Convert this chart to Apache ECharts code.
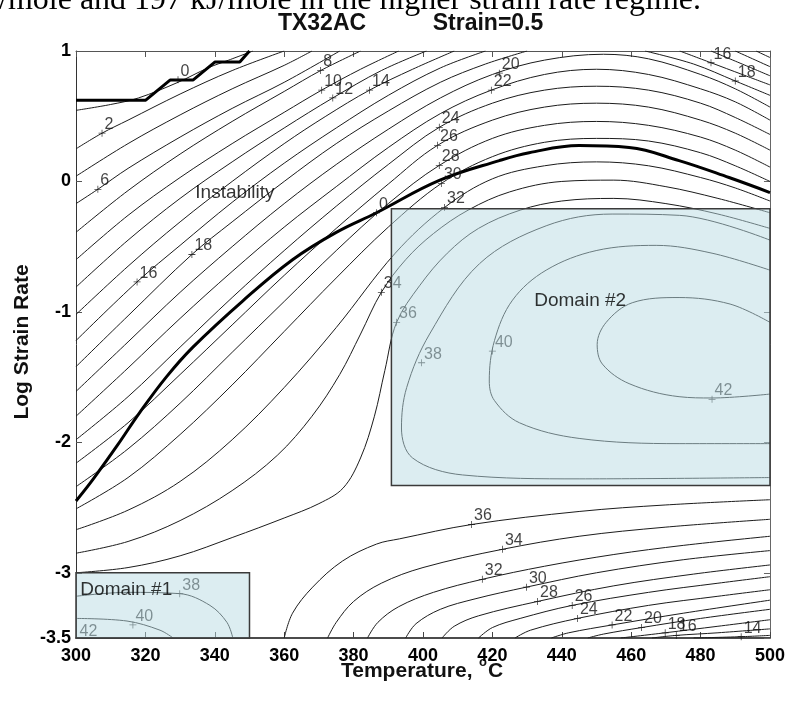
<!DOCTYPE html>
<html><head><meta charset="utf-8">
<script src="https://cdn.jsdelivr.net/npm/echarts@6/dist/echarts.min.js"></script>
<style>html,body{margin:0;padding:0;background:#fff;}#c{width:788px;height:702px;}</style>
</head><body><div id="c"></div>
<script>
// ---- axis ticks ----
const xTicks = [300, 320, 340, 360, 380, 400, 420, 440, 460, 480, 500];
const yTicks = [-3.5, -3, -2, -1, 0, 1];

// ---- upper family contour lines (Temperature, Log strain rate) ----
const lvl00 = [[300,0.545],[310,0.59],[318,0.64],[329.4,0.76],[338,0.87],[344,0.93],[351,1.0]];
const lvl02 = [[300,0.25],[307.5,0.37],[315,0.47],[330,0.67],[345,0.85],[360,1.0]];
const lvl04 = [[300,0.04],[315,0.29],[330,0.51],[345,0.71],[360,0.89],[368,1.0]];
const lvl06 = [[300,-0.17],[306.3,-0.06],[315,0.10],[330,0.34],[345,0.56],[360,0.76],[376,1.0]];
const lvl08 = [[300,-0.39],[315,-0.07],[330,0.21],[345,0.46],[360,0.69],[370.5,0.85],[382,1.0]];
const lvl10 = [[300,-0.60],[315,-0.26],[330,0.03],[345,0.29],[360,0.53],[370.8,0.70],[382,0.86],[393,1.0]];
const lvl10r = [[496,1.0],[500,0.95]];
const lvl12 = [[300,-0.81],[315,-0.45],[330,-0.13],[345,0.15],[360,0.41],[374,0.64],[388,0.85],[401,1.0]];
const lvl12r = [[490,1.0],[495,0.94],[500,0.88]];
const lvl14 = [[300,-1.02],[315,-0.65],[330,-0.31],[345,0.0],[360,0.29],[372,0.50],[384.6,0.70],[397,0.86],[409,1.0]];
const lvl14r = [[483,1.0],[492,0.90],[500,0.81]];
const lvl16 = [[300,-1.22],[317.6,-0.77],[330,-0.49],[345,-0.16],[360,0.14],[375,0.41],[390,0.66],[405,0.87],[418,1.0]];
const lvl16r = [[474,1.0],[483,0.91],[492,0.82],[500,0.74]];
const lvl18 = [[300,-1.42],[315,-1.03],[333.4,-0.56],[345,-0.31],[360,0.0],[375,0.29],[390,0.54],[405,0.76],[418,0.90],[430,1.0]];
const lvl18r = [[464,1.0],[478,0.90],[490,0.77],[500,0.66]];
const lvl20 = [[300,-1.61],[315,-1.23],[330,-0.85],[345,-0.50],[360,-0.17],[375,0.13],[390,0.40],[405,0.64],[420,0.82],[435,0.93],[452,0.975],[465,0.94],[480,0.82],[490,0.71],[500,0.57]];
const lvl22 = [[300,-1.80],[315,-1.43],[330,-1.05],[345,-0.69],[360,-0.35],[375,-0.04],[390,0.26],[405,0.52],[419.7,0.70],[435,0.82],[450,0.86],[465,0.82],[480,0.71],[490,0.61],[500,0.47]];
const lvl24 = [[300,-1.98],[315,-1.65],[330,-1.27],[345,-0.89],[360,-0.53],[375,-0.19],[390,0.13],[404.7,0.415],[420,0.60],[435,0.70],[450,0.73],[465,0.70],[480,0.60],[490,0.49],[500,0.36]];
const lvl26 = [[300,-2.16],[315,-1.85],[330,-1.48],[345,-1.10],[360,-0.72],[375,-0.36],[390,-0.02],[404.2,0.277],[420,0.47],[435,0.57],[450,0.60],[465,0.57],[480,0.47],[490,0.37],[500,0.24]];
const lvl28 = [[300,-2.34],[315,-2.05],[330,-1.70],[345,-1.31],[360,-0.92],[375,-0.53],[390,-0.17],[404.7,0.123],[420,0.33],[435,0.43],[450,0.46],[465,0.43],[480,0.34],[490,0.24],[500,0.11]];
const lvl30 = [[300,-2.51],[315,-2.27],[330,-1.94],[345,-1.56],[360,-1.15],[375,-0.74],[390,-0.35],[405.3,-0.015],[420,0.19],[435,0.30],[450,0.33],[465,0.31],[480,0.22],[490,0.12],[500,0.0]];
const lvl32 = [[300,-2.67],[315,-2.52],[330,-2.30],[345,-1.98],[360,-1.58],[375,-1.12],[392,-0.55],[406.2,-0.20],[420,0.02],[435,0.12],[450,0.15],[465,0.12],[480,0.03],[490,-0.05],[500,-0.15]];
const lvl34 = [[300,-2.85],[315,-2.76],[330,-2.60],[345,-2.37],[358,-2.10],[368,-1.80],[376,-1.48],[382,-1.17],[388,-0.85],[395,-0.60],[403,-0.40],[413,-0.22],[425,-0.08],[440,0.0],[455,0.01],[470,-0.04],[485,-0.13],[500,-0.24]];
const lvl36 = [[300,-3.0],[315,-2.96],[330,-2.87],[345,-2.73],[360,-2.58],[370,-2.47],[377,-2.35],[382,-2.12],[386,-1.80],[389,-1.45],[392.4,-1.08],[399,-0.80],[407,-0.55],[416,-0.36],[428,-0.22],[440,-0.15],[455,-0.13],[470,-0.17],[485,-0.25],[500,-0.36]];

// ---- domain #2 closed contours ----
const lvl38d2 = [[500,-0.45],[474,-0.26],[454.5,-0.25],[435.5,-0.34],[416.3,-0.63],[401.9,-1.17],[395.3,-1.58],[393.8,-1.89],[397,-2.12],[411.4,-2.25],[445,-2.28],[500,-2.27]];
const lvl40d2 = [[500,-0.68],[483.3,-0.55],[467.2,-0.49],[449.9,-0.53],[435.5,-0.68],[425.8,-0.91],[420.6,-1.22],[419.1,-1.53],[420.6,-1.68],[427.8,-1.85],[445,-1.97],[473.8,-2.01],[500,-2.01]];
const lvl42d2 = [[500,-1.08],[488.5,-0.94],[473.8,-0.89],[460.3,-0.93],[452.8,-1.08],[450.2,-1.25],[451.7,-1.40],[459.4,-1.55],[473.8,-1.65],[483.3,-1.66],[500,-1.63]];

// ---- domain #1 contours ----
const lvl38d1 = [[300,-3.18],[314.7,-3.15],[329.9,-3.16],[338.6,-3.25],[343.5,-3.38],[345.2,-3.5]];
const lvl40d1 = [[300,-3.35],[314.7,-3.37],[324.2,-3.44],[328,-3.5]];

// ---- bottom family ----
const lvl36b = [[360,-3.5],[362.4,-3.31],[368.2,-3.11],[376.8,-2.91],[386.6,-2.78],[393.2,-2.74],[414,-2.63],[445,-2.53],[470,-2.48],[500,-2.44]];
const lvl34b = [[372.5,-3.5],[375,-3.38],[380,-3.22],[388,-3.08],[400,-2.96],[422.9,-2.82],[445,-2.72],[470,-2.65],[500,-2.59]];
const lvl32b = [[384,-3.5],[387,-3.38],[393,-3.26],[403,-3.15],[417.1,-3.05],[435,-2.95],[455,-2.86],[475,-2.79],[500,-2.72]];
const lvl30b = [[395,-3.5],[398,-3.39],[405,-3.28],[415,-3.2],[429.8,-3.11],[450,-3.0],[475,-2.9],[500,-2.83]];
const lvl28b = [[405.5,-3.5],[409,-3.41],[416,-3.33],[433,-3.22],[455,-3.1],[478,-3.01],[500,-2.94]];
const lvl26b = [[416,-3.5],[420,-3.42],[428,-3.35],[443,-3.25],[465,-3.15],[485,-3.08],[500,-3.03]];
const lvl24b = [[426.5,-3.5],[431,-3.44],[444.5,-3.35],[465,-3.25],[485,-3.18],[500,-3.13]];
const lvl22b = [[437,-3.5],[442,-3.46],[454.5,-3.40],[475,-3.31],[500,-3.21]];
const lvl20b = [[447.5,-3.5],[452,-3.47],[463,-3.42],[480,-3.35],[500,-3.28]];
const lvl18b = [[457,-3.5],[469.8,-3.46],[485,-3.41],[500,-3.36]];
const lvl16b = [[466,-3.5],[473,-3.48],[485,-3.46],[500,-3.43]];
const lvl14b = [[478,-3.5],[491.7,-3.49],[500,-3.48]];

// ---- instability (flow) boundaries ----
const instabilityCurve = [[300,-2.45],[305,-2.28],[312,-2.02],[318.4,-1.77],[326,-1.50],[333.7,-1.27],[348.1,-0.915],[362.4,-0.60],[375,-0.39],[386.6,-0.24],[404.7,0.008],[422,0.16],[430.6,0.22],[445,0.275],[459.4,0.26],[473.8,0.16],[488.2,0.03],[500,-0.085]];
const instabilityStep = [[300,0.623],[320.1,0.623],[327.1,0.777],[333.7,0.777],[340,0.915],[347.2,0.915],[350,1.0]];

// ---- domains [xMin, yMax, xMax, yMin] ----
const domainBoxes = [[390.9,-0.21,500,-2.33],[300,-3.0,350,-3.5]];

// ---- contour labels [x, y, text] ----
const labelsBlack = [
  [329.4,0.78,'0'],[307.5,0.37,'2'],[306.3,-0.06,'6'],[370.5,0.85,'8'],[370.8,0.70,'10'],[374,0.64,'12'],
  [384.6,0.70,'14'],[317.6,-0.77,'16'],[333.4,-0.56,'18'],[422,0.83,'20'],[419.7,0.70,'22'],[404.7,0.415,'24'],
  [404.2,0.277,'26'],[404.7,0.123,'28'],[405.3,-0.015,'30'],[406.2,-0.20,'32'],[386.6,-0.24,'0'],[388,-0.85,'34'],
  [483,0.91,'16'],[490,0.77,'18'],
  [414,-2.63,'36'],[422.9,-2.82,'34'],[417.1,-3.05,'32'],[429.8,-3.11,'30'],[433,-3.22,'28'],[443,-3.25,'26'],
  [444.5,-3.35,'24'],[454.5,-3.40,'22'],[463,-3.42,'20'],[469.8,-3.46,'18'],[473,-3.48,'16'],[491.7,-3.49,'14']
];
const labelsInside = [
  [392.4,-1.08,'36'],[399.6,-1.39,'38'],[420,-1.30,'40'],[483.3,-1.67,'42'],[329.9,-3.16,'38'],[316.4,-3.40,'40']
];
const textNotes = [[345.8,-0.085,'Instability'],[445.3,-0.915,'Domain #2'],[314.5,-3.13,'Domain #1']];
const cornerNote = [[303.6,-3.45,'42']];

const upperLines = [lvl00,lvl02,lvl04,lvl06,lvl08,lvl10,lvl10r,lvl12,lvl12r,lvl14,lvl14r,lvl16,lvl16r,lvl18,lvl18r,lvl20,lvl22,lvl24,lvl26,lvl28,lvl30,lvl32,lvl34,lvl36];
const domainLines = [lvl38d2,lvl40d2,lvl42d2,lvl38d1,lvl40d1];
const lowerLines = [lvl36b,lvl34b,lvl32b,lvl30b,lvl28b,lvl26b,lvl24b,lvl22b,lvl20b,lvl18b,lvl16b,lvl14b];

const FONT = '"Liberation Sans", Arial, sans-serif';
const plusSym = 'path://M4,0H5V9H4ZM0,4H9V5H0Z';

const series = [];
upperLines.concat(domainLines, lowerLines).forEach(d => series.push({
  type: 'line', data: d, showSymbol: false, smooth: 0.35, silent: true, z: 2,
  lineStyle: { color: '#1c1c1c', width: 1 }
}));
series.push({ type: 'line', data: instabilityCurve, showSymbol: false, smooth: 0.4, silent: true, z: 3,
  lineStyle: { color: '#000', width: 3 } });
series.push({ type: 'line', data: instabilityStep, showSymbol: false, smooth: false, silent: true, z: 3,
  lineStyle: { color: '#000', width: 3 } });

function labelSeries(data, color, z) {
  return { type: 'scatter', data: data, symbol: plusSym, symbolSize: 7, silent: true, z: z,
    itemStyle: { color: color },
    label: { show: true, formatter: p => p.value[2], position: [6, -5], align: 'left', verticalAlign: 'middle',
      color: color, fontSize: 16, fontFamily: FONT } };
}
series.push(labelSeries(labelsBlack, '#111', 4));
series.push(labelSeries(labelsInside, '#111', 4));
series.push({ type: 'scatter', data: cornerNote, symbolSize: 0, silent: true, z: 4,
  label: { show: true, formatter: p => p.value[2], position: 'inside', color: '#111', fontSize: 16, fontFamily: FONT } });

series.push({ type: 'custom', z: 10, silent: true, data: domainBoxes, encode: { x: [0, 2], y: [1, 3] },
  renderItem: (params, api) => {
    const p0 = api.coord([api.value(0), api.value(1)]);
    const p1 = api.coord([api.value(2), api.value(3)]);
    return { type: 'rect', shape: { x: p0[0], y: p0[1], width: p1[0] - p0[0], height: p1[1] - p0[1] },
      style: { fill: 'rgba(185,219,227,0.5)', stroke: '#3a3a3a', lineWidth: 1.5 } };
  } });

series.push({ type: 'scatter', data: textNotes, symbolSize: 0, silent: true, z: 20,
  label: { show: true, formatter: p => p.value[2], position: 'inside', color: '#000', fontSize: 19, fontFamily: FONT } });

const chart = echarts.init(document.getElementById('c'), null, { renderer: 'canvas' });
const axisCommon = { type: 'value', splitLine: { show: false }, animation: false };
chart.setOption({
  animation: false,
  backgroundColor: '#fff',
  grid: { left: 76, right: 17, top: 51, bottom: 64, containLabel: false },
  xAxis: [
    Object.assign({}, axisCommon, { position: 'bottom', min: 300, max: 500, interval: 20,
      axisLine: { show: true, onZero: false, lineStyle: { color: '#111', width: 1.5 } },
      axisTick: { show: true, inside: true, length: 6, lineStyle: { color: '#444' } },
      axisLabel: { show: true, color: '#000', fontSize: 18, fontWeight: 'bold', fontFamily: FONT, margin: 9,
        formatter: v => xTicks.includes(v) ? String(v) : '' } }),
    Object.assign({}, axisCommon, { position: 'top', min: 300, max: 500, interval: 20,
      axisLine: { show: true, onZero: false, lineStyle: { color: '#555', width: 1 } },
      axisTick: { show: true, inside: true, length: 6, lineStyle: { color: '#555' } },
      axisLabel: { show: false } })
  ],
  yAxis: [
    Object.assign({}, axisCommon, { position: 'left', min: -3.5, max: 1,
      axisLine: { show: true, onZero: false, lineStyle: { color: '#333', width: 1 } },
      axisTick: { show: true, inside: true, length: 6, customValues: yTicks, lineStyle: { color: '#555' } },
      axisLabel: { show: true, customValues: yTicks, color: '#000', fontSize: 18, fontWeight: 'bold', fontFamily: FONT, margin: 5 } }),
    Object.assign({}, axisCommon, { position: 'right', min: -3.5, max: 1,
      axisLine: { show: true, onZero: false, lineStyle: { color: '#666', width: 1 } },
      axisTick: { show: true, inside: true, length: 6, customValues: yTicks, lineStyle: { color: '#666' } },
      axisLabel: { show: false } })
  ],
  graphic: [
    { type: 'text', x: -1, y: 17, style: { text: '/mole and 197 kJ/mole in the higher strain rate regime.', font: '32px "Liberation Serif", serif', fill: '#000', verticalAlign: 'bottom' } },
    { type: 'text', x: 322, y: 24, style: { text: 'TX32AC', font: 'bold 23px ' + FONT, fill: '#111', align: 'center', verticalAlign: 'middle' } },
    { type: 'text', x: 488, y: 24, style: { text: 'Strain=0.5', font: 'bold 23px ' + FONT, fill: '#111', align: 'center', verticalAlign: 'middle' } },
    { type: 'text', x: 22, y: 342, rotation: Math.PI / 2, style: { text: 'Log Strain Rate', font: 'bold 21px ' + FONT, fill: '#111', align: 'center', verticalAlign: 'middle' } },
    { type: 'text', x: 341, y: 671, style: { text: 'Temperature, ', font: 'bold 21px ' + FONT, fill: '#111', align: 'left', verticalAlign: 'middle' } },
    { type: 'text', x: 479, y: 662, style: { text: 'o', font: 'bold 13px ' + FONT, fill: '#111', align: 'left', verticalAlign: 'middle' } },
    { type: 'text', x: 488, y: 671, style: { text: 'C', font: 'bold 21px ' + FONT, fill: '#111', align: 'left', verticalAlign: 'middle' } }
  ],
  series: series
});
</script></body></html>
